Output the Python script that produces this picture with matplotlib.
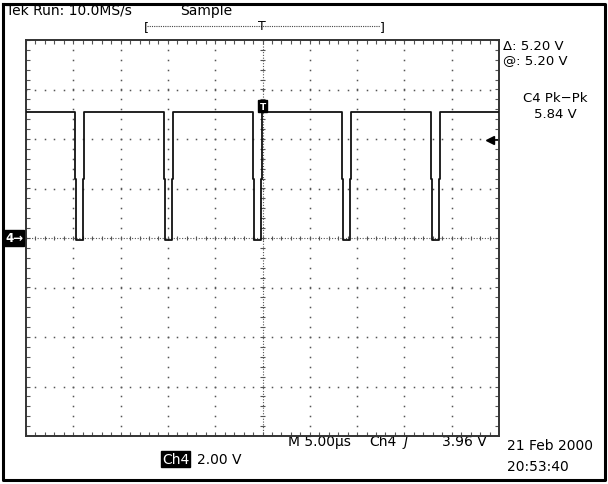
import numpy as np
import matplotlib.pyplot as plt
from matplotlib.collections import LineCollection
from matplotlib.transforms import blended_transform_factory

# Ch4 trace (time in us from left edge of screen, volts)
fall_times = [5.18, 14.60, 24.00, 33.40, 42.80]
rise_times = [6.12, 15.55, 24.95, 34.35, 43.75]
high_level = 5.10
low_level = -0.08
edge_mid = 2.4
edge_jog = 0.1

t_per_div = 5.0   # us/div
v_per_div = 2.0   # V/div
trig_level = 3.96
trig_time = 25.0
ch4_ground = 0.0

W, H = 608, 485
fig = plt.figure(figsize=(W / 100, H / 100), dpi=100)

# overlay in pixel coordinates for the screen annotations
ov = fig.add_axes([0, 0, 1, 1])
ov.set_xlim(0, W)
ov.set_ylim(H, 0)
ov.axis("off")

# graticule axes
gx0, gx1, gy0, gy1 = 26, 499, 41, 437
ax = fig.add_axes([gx0 / W, (H - gy1) / H, (gx1 - gx0) / W, (gy1 - gy0) / H])
ax.set_xlim(0, 10 * t_per_div)
ax.set_ylim(-4 * v_per_div, 4 * v_per_div)
ax.set_xticks([])
ax.set_yticks([])
for s in ax.spines.values():
    s.set_color("#333333")
    s.set_linewidth(1.4)

gc = "#555555"
xs_minor = np.arange(0, 10 * t_per_div + 0.01, t_per_div / 5)
ys_minor = np.arange(-4 * v_per_div, 4 * v_per_div + 0.01, v_per_div / 5)

# dotted division lines
for k in range(1, 10):
    if k == 5:
        continue
    ax.plot(np.full_like(ys_minor, k * t_per_div), ys_minor, ls="none",
            marker="s", ms=1.1, color=gc, mew=0)
for k in range(-3, 4):
    if k == 0:
        continue
    ax.plot(xs_minor, np.full_like(xs_minor, k * v_per_div), ls="none",
            marker="s", ms=1.1, color=gc, mew=0)

# center cross with fine dots and minor ticks
ax.axhline(0, color=gc, lw=0.8, ls=(0, (1, 1.5)))
ax.axvline(5 * t_per_div, color=gc, lw=0.8, ls=(0, (1, 1.5)))
tl_v = 0.1
tl_t = 0.25
segs = []
for x in xs_minor:
    segs.append([(x, -tl_v), (x, tl_v)])
    segs.append([(x, -4 * v_per_div), (x, -4 * v_per_div + 0.16)])
    segs.append([(x, 4 * v_per_div), (x, 4 * v_per_div - 0.16)])
for y in ys_minor:
    segs.append([(25 - tl_t, y), (25 + tl_t, y)])
    segs.append([(0, y), (0.4, y)])
    segs.append([(50, y), (49.6, y)])
ax.add_collection(LineCollection(segs, colors=gc, linewidths=0.8))

# the trace
t = [0.0]
v = [high_level]
for f, r in zip(fall_times, rise_times):
    t += [f, f, f + edge_jog, f + edge_jog, r - edge_jog, r - edge_jog, r, r]
    v += [high_level, edge_mid, edge_mid, low_level, low_level, edge_mid, edge_mid, high_level]
t.append(10 * t_per_div)
v.append(high_level)
ax.plot(t, v, color="#111111", lw=1.3, zorder=5)

# trigger point marker on the trace
ax.text(trig_time, high_level + 0.05, "T", color="white", fontsize=6.5, fontweight="bold",
        ha="center", va="bottom", zorder=6,
        bbox=dict(boxstyle="square,pad=0.15", fc="black", ec="black"))

# trigger level arrow at right edge
ax.plot([49.0], [trig_level], marker="<", ms=6, color="black", clip_on=False, zorder=6)
ax.plot([49.0, 50.0], [trig_level, trig_level], color="black", lw=1.2, clip_on=False)

# channel ground marker at left
ytr = blended_transform_factory(ax.transAxes, ax.transData)
ax.text(-0.006, ch4_ground, "4\u2192", transform=ytr, color="white", fontsize=8.5,
        fontweight="bold", ha="right", va="center", clip_on=False,
        bbox=dict(boxstyle="square,pad=0.1", fc="black", ec="black"))

# outer frame
ov.plot([3, 605, 605, 3, 3], [5, 5, 481, 481, 5], color="black", lw=2.2)

fs = 10
ov.text(6, 11, "Tek Run: 10.0MS/s", fontsize=fs, ha="left", va="center")
ov.text(180, 11, "Sample", fontsize=fs, ha="left", va="center")

# record/trigger position bar
ov.plot([147, 380], [27, 27], color="#444444", lw=0.8, ls=(0, (1, 1)))
ov.text(146, 28, "[", fontsize=9, ha="center", va="center")
ov.text(382, 28, "]", fontsize=9, ha="center", va="center")
ov.text(262, 27, "T", fontsize=9, ha="center", va="center")

# measurement readouts
fr = 9.5
ov.text(503, 46, "\u0394: 5.20 V", fontsize=fr, ha="left", va="center")
ov.text(503, 61, "@: 5.20 V", fontsize=fr, ha="left", va="center")
ov.text(555, 99, "C4 Pk\u2212Pk", fontsize=fr, ha="center", va="center")
ov.text(555, 114, "5.84 V", fontsize=fr, ha="center", va="center")

# bottom status line
ov.text(288, 442, "M 5.00\u00b5s", fontsize=fs, ha="left", va="center")
ov.text(369, 442, "Ch4", fontsize=fs, ha="left", va="center")
ov.text(404, 442, "\u0283", fontsize=fs, ha="left", va="center", style="italic")
ov.text(487, 442, "3.96 V", fontsize=fs, ha="right", va="center")
ov.text(507, 446, "21 Feb 2000", fontsize=fs, ha="left", va="center")
ov.text(507, 467, "20:53:40", fontsize=fs, ha="left", va="center")
ov.text(162, 460, "Ch4", fontsize=fs, ha="left", va="center", color="white",
        bbox=dict(boxstyle="square,pad=0.08", fc="black", ec="black"))
ov.text(197, 460, "2.00 V", fontsize=fs, ha="left", va="center")

fig.savefig("out.png", dpi=100, facecolor="white")
